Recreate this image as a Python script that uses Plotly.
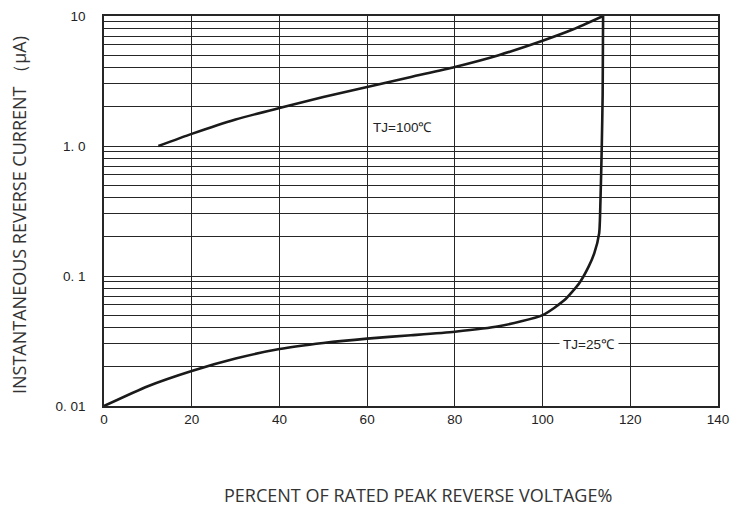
import math
import plotly.graph_objects as go

# --- data ---
x_100 = [12.4, 20, 30, 40, 50, 60, 70, 80, 90, 100, 107, 113.8]
y_100 = [1.0, 1.24, 1.6, 1.96, 2.38, 2.84, 3.4, 4.06, 5.0, 6.45, 7.9, 10.0]

x_25 = [0, 10, 20, 30, 40, 50, 60, 70, 80, 90, 100, 105, 108.4, 110.5, 111.8, 112.9, 113.2, 113.5, 113.7, 113.8]
y_25 = [0.01, 0.0142, 0.0186, 0.0232, 0.0274, 0.0305, 0.033, 0.035, 0.0373, 0.041, 0.050, 0.0653, 0.0884, 0.118, 0.150, 0.213, 0.38, 1.0, 2.5, 10.0]

x_ticks = [0, 20, 40, 60, 80, 100, 120, 140]
y_grid = [m * d for d in (0.01, 0.1, 1.0) for m in range(1, 10)] + [10.0]
y_major = {0.01: "0. 01", 0.1: "0. 1", 1.0: "1. 0", 10.0: "10"}
y_ticktext = [y_major.get(round(v, 6), "") for v in y_grid]

label_100 = ("TJ=100℃", 68, 1.38)
label_25 = ("TJ=25℃", 110.6, 0.0298)

x_title = "PERCENT OF RATED PEAK REVERSE VOLTAGE%"
y_title = "INSTANTANEOUS REVERSE CURRENT （μA)"

line_col = "#1a1a1a"
grid_col = "#262626"

# page body has an 8px margin; figure sized to fit the window
OFF = 8
W, H = 745 - OFF, 509 - OFF
ML, MT = 104 - OFF, 16 - OFF
MR = W - (718 - OFF)
MB = H - (406 - OFF)

fig = go.Figure()
for xs, ys in ((x_100, y_100), (x_25, y_25)):
    fig.add_trace(go.Scatter(x=xs, y=ys, mode="lines",
                             line=dict(color=line_col, width=2.6, shape="spline", smoothing=0.6),
                             hoverinfo="skip", showlegend=False))

for txt, ax, ay in (label_100, label_25):
    fig.add_annotation(x=ax, y=math.log10(ay), yref="y", xref="x", text=txt, showarrow=False,
                       font=dict(family="Liberation Sans, Arial", size=13.5, color="#222"),
                       bgcolor="white" if "25" in txt else "rgba(0,0,0,0)", borderpad=3)

# axis titles placed in paper coordinates
plot_w = W - ML - MR
plot_h = H - MT - MB
fig.add_annotation(xref="paper", yref="paper",
                   x=(418 - OFF - ML) / plot_w, y=(H - MB - (495 - OFF)) / plot_h,
                   text=x_title, showarrow=False, xanchor="center", yanchor="middle",
                   font=dict(family="Open Sans", size=18, color="#333"))
fig.add_annotation(xref="paper", yref="paper",
                   x=(19 - OFF - ML) / plot_w, y=(H - MB - (215 - OFF)) / plot_h,
                   text=y_title, showarrow=False, xanchor="center", yanchor="middle",
                   textangle=-90,
                   font=dict(family="Open Sans", size=18, color="#333"))

fig.update_layout(
    width=W, height=H,
    margin=dict(l=ML, r=MR, t=MT, b=MB),
    paper_bgcolor="white", plot_bgcolor="white",
    font=dict(family="Open Sans, Liberation Sans", color="#222"),
    xaxis=dict(range=[0, 140], tickvals=x_ticks, ticktext=[str(v) for v in x_ticks],
               showgrid=True, gridcolor=grid_col, gridwidth=1.4, zeroline=False,
               showline=True, mirror=True, linecolor=grid_col, linewidth=1.5,
               ticks="", automargin=False,
               tickfont=dict(family="Liberation Sans, Arial", size=13.5, color="#222")),
    yaxis=dict(type="log", range=[-2, 1], tickvals=y_grid, ticktext=y_ticktext,
               showgrid=True, gridcolor=grid_col, gridwidth=1.4, zeroline=False,
               showline=True, mirror=True, linecolor=grid_col, linewidth=1.5,
               ticks="", ticklabelstandoff=14, automargin=False,
               tickfont=dict(family="Liberation Sans, Arial", size=13.5, color="#222")),
)

fig.write_html("out.html")
